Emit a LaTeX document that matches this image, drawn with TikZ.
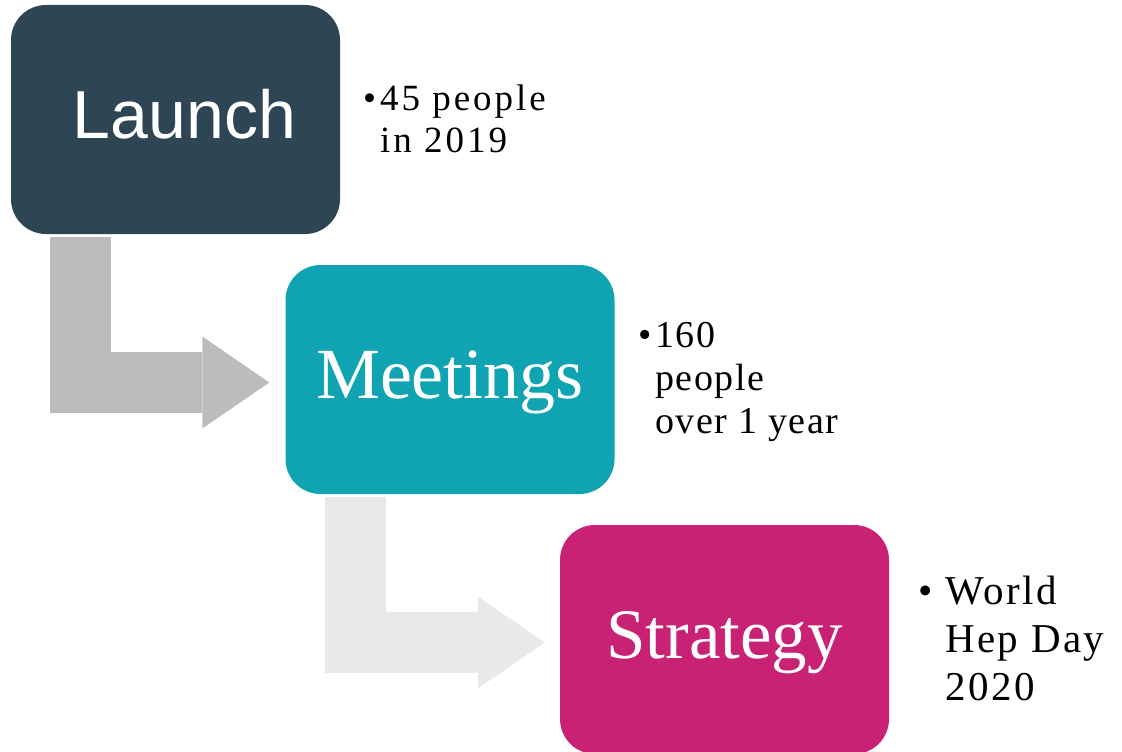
\documentclass[tikz,border=0pt]{standalone}
\usepackage{fontspec}
\setmainfont{Liberation Serif}
\newfontfamily\boxsans{Liberation Sans}
\usetikzlibrary{arrows.meta,calc}
\definecolor{cLaunch}{HTML}{2E4553}
\definecolor{cMeet}{HTML}{10A3B1}
\definecolor{cStrat}{HTML}{C92173}
\definecolor{cArrowA}{HTML}{BDBBBC}
\definecolor{cArrowB}{HTML}{E8E9E8}
\newcommand{\bul}[1]{\makebox[#1][l]{•}}
\tikzset{
  stagebox/.style={rectangle, rounded corners=35pt, minimum width=329pt, minimum height=229pt,
    inner sep=0pt, text=white, text height=50pt, text depth=13pt},
  flowarrow/.style={line width=61pt, line join=miter, line cap=butt,
    -{Triangle[length=67pt,width=92pt,line width=0pt]}},
  notetext/.style={anchor=base west, inner sep=0pt, align=left, text=black}
}
\begin{document}
\begin{tikzpicture}[x=1pt,y=-1pt]
\useasboundingbox (0,0) rectangle (1122,752);
% stage boxes
\node[stagebox, fill=cLaunch, font=\boxsans\fontsize{68}{80}\selectfont] (launch) at (175.5,119.5) {\hspace*{18pt}Launch};
\node[stagebox, fill=cMeet, font=\fontsize{72}{84}\selectfont] (meetings) at (450,379.5) {Meetings};
\node[stagebox, fill=cStrat, font=\fontsize{71}{84}\selectfont] (strategy) at (724.5,639.5) {Strategy};
% bent arrows
\draw[flowarrow, cArrowA] ($(launch.south west)+(70,3)$) |- ($(meetings.west)+(-16,3)$);
\draw[flowarrow, cArrowB] ($(meetings.south west)+(70,3)$) |- ($(strategy.west)+(-15,3)$);
% notes (base anchor = baseline of last line)
\node[notetext, font=\fontsize{37}{42}\selectfont\addfontfeature{LetterSpace=8}] (note1) at (363,152)
  {\bul{17pt}45 people\\\hspace*{17pt}in 2019};
\node[notetext, font=\fontsize{38}{43}\selectfont\addfontfeature{LetterSpace=4}] (note2) at (638,433)
  {\bul{17pt}160\\\hspace*{17pt}people\\\hspace*{17pt}over 1 year};
\node[notetext, font=\fontsize{41}{48}\selectfont\addfontfeature{LetterSpace=6}] (note3) at (918,700)
  {\bul{27pt}World\\\hspace*{27pt}Hep Day\\\hspace*{27pt}2020};
\end{tikzpicture}
\end{document}
